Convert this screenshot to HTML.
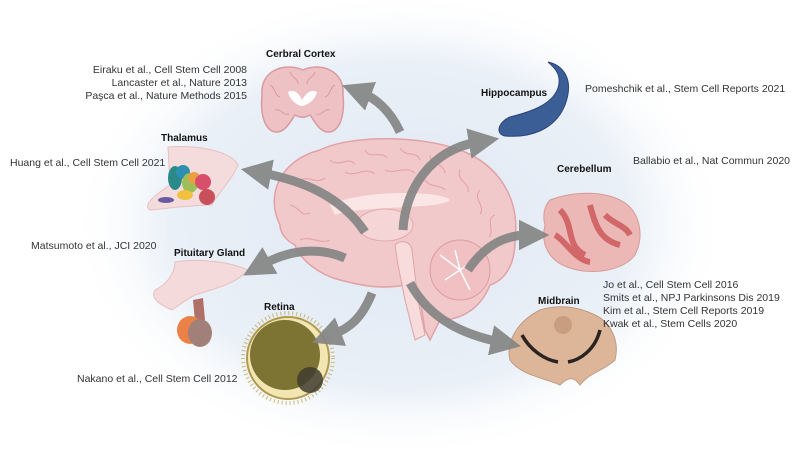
<!DOCTYPE html>
<html><head><meta charset="utf-8"><style>
html,body{margin:0;padding:0;background:#fff;width:792px;height:455px;overflow:hidden}
svg{display:block}
text{font-family:"Liberation Sans",sans-serif;font-size:10.5px;fill:#333}
.t{font-size:10px;fill:#111;font-weight:bold}
</style></head><body>
<svg width="792" height="455" viewBox="0 0 792 455">
<defs>
<radialGradient id="bg" cx="50%" cy="50%" r="50%">
<stop offset="0" stop-color="#dfe8f3"/><stop offset="0.7" stop-color="#eaf0f7"/><stop offset="1" stop-color="#fff" stop-opacity="0"/>
</radialGradient>
<marker id="ah" viewBox="0 0 10 10" refX="3" refY="5" markerWidth="3.4" markerHeight="3.4" orient="auto"><path d="M0,0L10,5L0,10z" fill="#858585"/></marker>
</defs>
<ellipse cx="400" cy="225" rx="330" ry="235" fill="url(#bg)"/>
<!-- brain -->
<path d="M280,225 C265,195 280,160 320,150 C350,135 420,135 460,150 C500,165 520,200 515,240 C515,265 505,280 490,285 C480,310 460,320 440,320 L430,340 L425,330 L420,300 L405,285 C380,290 360,285 340,280 C320,275 300,260 295,245 C285,240 280,232 280,225Z" fill="#f2c9cb" stroke="#e0a2a6" stroke-width="1.5"/>
<g stroke="#e3a6aa" stroke-width="1.2" fill="none">
<path d="M300,180 c10,-5 15,5 25,-2 M330,160 c8,8 18,-4 25,4 M365,150 c5,10 15,0 22,8 M400,148 c6,10 16,2 20,12 M430,155 c0,10 14,8 15,18 M460,170 c-4,12 10,12 8,22 M480,190 c-8,8 6,16 0,24 M495,215 c-10,4 0,16 -6,22 M290,205 c10,2 10,12 20,8 M300,240 c10,-5 20,5 30,0"/>
<path d="M345,172 c10,6 20,-6 30,2 M385,170 c10,5 20,-5 30,3 M425,180 c5,8 15,4 20,10"/>
</g>
<path d="M330,205 C360,190 440,190 450,200 C440,210 360,205 335,215Z" fill="#fbe6e6"/>
<ellipse cx="385" cy="225" rx="28" ry="16" fill="#f6d5d6" stroke="#e3a8ab"/>
<path d="M395,245 C400,240 410,240 412,250 L418,300 L425,335 L415,340 L405,300 L398,265Z" fill="#f8dcdc" stroke="#e0a2a6"/>
<circle cx="460" cy="270" r="30" fill="#f0c0c3" stroke="#dc9ca0"/>
<path d="M440,255 l20,15 l15,-10 M455,250 l5,20 l10,20 M445,280 l15,-10" stroke="#fff" stroke-width="1.5" fill="none"/>
<!-- cortex slice -->
<path d="M262,95 C260,70 285,62 303,70 C320,62 345,70 343,95 C345,115 340,130 330,132 C320,133 315,122 310,115 C305,118 300,118 295,115 C290,122 285,133 275,132 C265,130 260,115 262,95Z" fill="#eec2c4" stroke="#d89aa0" stroke-width="1.5"/>
<path d="M270,85 c6,3 4,10 10,12 M275,110 c6,-2 8,6 14,4 M335,85 c-6,3 -4,10 -10,12 M330,110 c-6,-2 -8,6 -14,4 M290,72 c2,6 8,6 8,12 M315,72 c-2,6 -8,6 -8,12" stroke="#d89aa0" fill="none"/>
<path d="M288,92 C295,88 300,95 302,100 C305,95 310,88 317,92 C315,100 308,105 302,106 C296,105 290,100 288,92Z" fill="#fff"/>
<!-- hippocampus -->
<path d="M548,62 C562,65 575,78 565,105 C555,130 530,138 505,136 C495,134 498,122 510,117 C530,112 552,105 558,88 C562,75 555,68 548,62Z" fill="#3c5e96" stroke="#2a4478"/>
<!-- thalamus -->
<path d="M168,147 C195,145 230,150 238,165 C232,180 220,190 212,205 C195,205 170,208 150,210 C142,205 155,195 170,185Z" fill="#f5dcdc" stroke="#e7c0c0"/>
<ellipse cx="175" cy="178" rx="7" ry="12" fill="#2a8a8a"/>
<ellipse cx="183" cy="172" rx="7" ry="7" fill="#2f8fb0"/>
<ellipse cx="190" cy="183" rx="8" ry="10" fill="#9cbf5a"/>
<ellipse cx="194" cy="178" rx="6" ry="6" fill="#e8a040"/>
<ellipse cx="203" cy="182" rx="8" ry="8" fill="#d74f6a"/>
<circle cx="207" cy="197" r="8" fill="#c8505a"/>
<ellipse cx="185" cy="195" rx="8" ry="5" fill="#f0c040"/>
<ellipse cx="166" cy="200" rx="8" ry="3" fill="#6a5aa0"/>
<!-- pituitary -->
<path d="M175,262 C200,258 230,262 248,270 C235,285 210,290 195,295 C185,300 180,305 172,310 C160,305 150,298 155,290 C165,285 175,275 175,262Z" fill="#f4dada" stroke="#e7c0c0"/>
<path d="M193,300 L203,298 L205,320 L195,322Z" fill="#b0706a"/>
<ellipse cx="190" cy="330" rx="13" ry="14" fill="#ea8248"/>
<ellipse cx="200" cy="333" rx="12" ry="14" fill="#a08078"/>
<!-- retina -->
<circle cx="288" cy="358" r="45" fill="none" stroke="#c8b87a" stroke-width="4" stroke-dasharray="1 3"/>
<circle cx="288" cy="358" r="41" fill="#f2e6b2" stroke="#b09a50" stroke-width="2"/>
<circle cx="285" cy="355" r="35" fill="#7d7332"/>
<circle cx="310" cy="380" r="13" fill="#3f3c30" opacity="0.85"/>
<!-- cerebellum -->
<path d="M550,200 C570,192 600,190 620,200 C640,210 645,235 635,255 C622,272 590,275 570,268 C550,262 540,245 545,225 C542,215 545,205 550,200Z" fill="#ecb8b6" stroke="#d69a98"/>
<path d="M560,210 C575,225 565,245 585,255 M590,205 C595,225 600,240 620,245 M605,215 C615,225 625,225 630,235 M555,235 C565,240 575,260 590,262" stroke="#d2676a" stroke-width="6" fill="none"/>
<!-- midbrain -->
<path d="M540,310 C555,305 575,305 595,315 C610,322 620,340 615,360 C605,370 590,372 580,385 C575,378 570,375 560,385 C545,378 520,375 510,360 C505,340 520,320 540,310Z" fill="#ddb69a" stroke="#c09a80"/>
<path d="M522,335 C530,350 545,360 558,362 M600,330 C595,350 580,360 568,362" stroke="#2a2420" stroke-width="3.5" fill="none"/>
<circle cx="563" cy="325" r="9" fill="#c89d80"/>
<!-- arrows -->
<g stroke="#858585" stroke-width="9" fill="none" opacity="0.92" marker-end="url(#ah)">
<path d="M400,132 C390,110 375,98 362,93"/>
<path d="M365,232 C340,195 300,180 262,173"/>
<path d="M345,258 C315,245 285,252 262,265"/>
<path d="M372,293 C362,318 350,328 332,335"/>
<path d="M403,230 C405,190 430,150 478,142"/>
<path d="M468,270 C485,245 505,235 528,235"/>
<path d="M410,283 C430,320 465,335 500,342"/>
</g>
<!-- titles -->
<text class="t" x="266" y="57">Cerbral Cortex</text>
<text class="t" x="481" y="96">Hippocampus</text>
<text class="t" x="161" y="141">Thalamus</text>
<text class="t" x="557" y="172">Cerebellum</text>
<text class="t" x="174" y="256">Pituitary Gland</text>
<text class="t" x="264" y="310">Retina</text>
<text class="t" x="538" y="304">Midbrain</text>
<!-- refs -->
<g text-anchor="end">
<text x="247" y="73">Eiraku et al., Cell Stem Cell 2008</text>
<text x="247" y="86">Lancaster et al., Nature 2013</text>
<text x="247" y="99">Paşca et al., Nature Methods 2015</text>
</g>
<text x="585" y="92">Pomeshchik et al., Stem Cell Reports 2021</text>
<text x="10" y="166">Huang et al., Cell Stem Cell 2021</text>
<text x="633" y="164">Ballabio et al., Nat Commun 2020</text>
<text x="31" y="249">Matsumoto et al., JCI 2020</text>
<text x="77" y="382">Nakano et al., Cell Stem Cell 2012</text>
<text x="603" y="288">Jo et al., Cell Stem Cell 2016</text>
<text x="603" y="301">Smits et al., NPJ Parkinsons Dis 2019</text>
<text x="603" y="314">Kim et al., Stem Cell Reports 2019</text>
<text x="603" y="327">Kwak et al., Stem Cells 2020</text>
</svg>
</body></html>
